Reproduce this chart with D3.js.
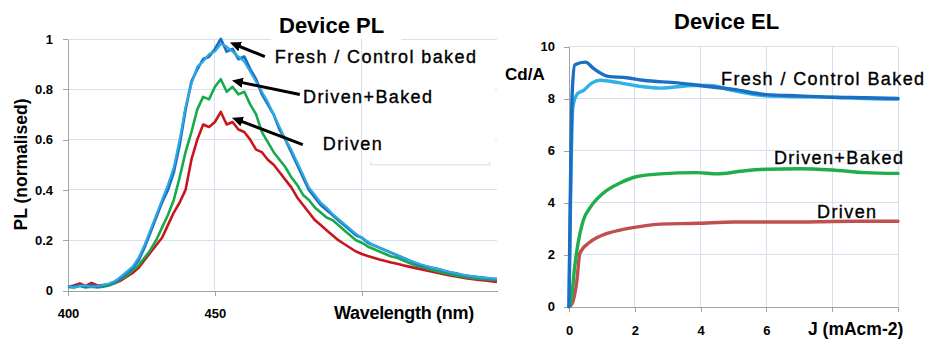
<!DOCTYPE html>
<html><head><meta charset="utf-8">
<script src="https://cdn.jsdelivr.net/npm/d3@7"></script>
<style>html,body{margin:0;padding:0;background:#fff;} svg{display:block;}</style>
</head><body><svg id="c" width="928" height="342"></svg>
<script>
// ---------- Device PL data ----------
const wavelengths=[400,402,404,406,408,410,412,414,416,418,420,422,424,426,428,430,432,434,436,438,440,442,444,446,448,450,452,454,456,458,460,462,464,466,468,470,472,474,476,478,480,482,484,486,488,490,492,494,496,498,500,502,504,506,508,510,512,514,516,518,520,522,524,526,528,530,532,534,536,538,540,542,544,546];
const plFresh=[.015,.015,.02,.015,.02,.015,.02,.025,.035,.05,.07,.09,.12,.17,.23,.29,.35,.40,.47,.58,.72,.83,.88,.92,.93,.96,1.0,.95,.96,.92,.93,.88,.84,.78,.74,.70,.64,.60,.55,.50,.45,.40,.37,.34,.32,.30,.28,.26,.24,.22,.21,.19,.18,.17,.16,.15,.14,.13,.12,.11,.10,.095,.09,.085,.078,.072,.068,.062,.058,.055,.052,.05,.047,.045];
const plControl=[.018,.012,.018,.02,.015,.018,.022,.028,.038,.055,.075,.095,.13,.18,.24,.30,.36,.42,.49,.60,.73,.82,.89,.91,.94,.95,.98,.97,.95,.93,.91,.87,.83,.79,.75,.70,.65,.60,.56,.51,.46,.41,.38,.35,.33,.305,.285,.265,.245,.225,.21,.195,.18,.17,.16,.15,.14,.13,.12,.112,.104,.097,.09,.085,.079,.073,.068,.063,.059,.056,.053,.05,.048,.046];
const plDrivenBaked=[.015,.012,.018,.012,.015,.012,.015,.02,.03,.045,.06,.08,.10,.13,.16,.20,.25,.30,.36,.45,.55,.63,.72,.77,.76,.81,.84,.79,.81,.78,.79,.74,.70,.63,.59,.55,.52,.49,.45,.42,.38,.36,.33,.31,.29,.28,.26,.24,.22,.20,.19,.175,.165,.155,.145,.135,.13,.12,.11,.10,.095,.088,.082,.076,.07,.065,.06,.056,.052,.049,.047,.045,.043,.041];
const plDriven=[.015,.02,.028,.018,.03,.02,.022,.024,.03,.04,.055,.07,.09,.12,.15,.18,.21,.26,.31,.35,.40,.52,.60,.66,.65,.67,.71,.66,.67,.64,.63,.60,.56,.55,.52,.50,.47,.44,.41,.37,.34,.31,.28,.26,.24,.22,.20,.185,.17,.155,.145,.137,.13,.123,.117,.111,.106,.1,.095,.09,.085,.08,.075,.07,.065,.06,.056,.052,.048,.045,.042,.04,.037,.034];
const plXTicks=[400,450,500];
const plXTickLabels=["400","450",""];
const plYTicks=[0,0.2,0.4,0.6,0.8,1];
const plYTickLabels=["0","0.2","0.4","0.6","0.8","1"];
const plNoteText=["Fresh / Control baked","Driven+Baked","Driven"];
const plNoteHead=[[455.1,0.986],[455.8,0.835],[455.8,0.687]];
const plNoteTail=[[467,0.93],[478.9,0.779],[479.9,0.58]];
const plNoteAt=[[470.4,0.906],[480,0.747],[486.7,0.56]];

// ---------- Device EL data ----------
const elFreshJ=[0,0.1,0.18,0.5,0.75,1.2,1.75,2.25,3.3,4.3,5,6,7,8,9,10];
const elFresh=[0,8.3,9.3,9.4,9.15,8.85,8.8,8.7,8.6,8.45,8.35,8.15,8.1,8.05,8.03,8.0];
const elControlJ=[0,0.12,0.27,0.43,0.7,0.95,1.55,2.25,2.8,3.8,4.3,5,6,7,8,9,10];
const elControl=[0,7.7,8.2,8.3,8.6,8.7,8.6,8.45,8.4,8.5,8.5,8.3,8.1,8.07,8.05,8.0,7.98];
const elDrivenBakedJ=[0,0.06,0.18,0.27,0.43,0.64,1.03,1.55,2.07,2.77,3.9,4.5,5.2,6,7,8,9,10];
const elDrivenBaked=[0,0.2,1.6,2.4,3.3,3.8,4.35,4.75,5.0,5.1,5.15,5.1,5.2,5.28,5.3,5.25,5.15,5.12];
const elDrivenJ=[0,0.09,0.24,0.33,0.64,1.03,1.55,2.07,2.77,3.9,5,6,7,8,9,10];
const elDriven=[0,0.1,1.0,2.05,2.48,2.75,2.94,3.06,3.17,3.2,3.25,3.25,3.25,3.27,3.28,3.28];
const elXTicks=[0,2,4,6,8,10];
const elXTickLabels=["0","2","4","6","",""];
const elYTicks=[0,2,4,6,8,10];
const elYTickLabels=["0","2","4","6","8","10"];
const elNoteText=["Fresh / Control Baked","Driven+Baked","Driven"];
const elNoteAt=[[4.62,8.52],[6.23,5.48],[7.54,3.40]];

// ---------- drawing ----------
const FONT="'Liberation Sans', Arial, sans-serif";
const GRID="#d5e1ee", AXIS="#a3a3a3";
const svg=d3.select("#c");
const gGridH=svg.append("g"), gAxes=svg.append("g"), gBg=svg.append("g"),
      gGridV=svg.append("g"), gLines=svg.append("g"), gText=svg.append("g");

function styleAxis(g){
  g.selectAll(".domain").attr("stroke",AXIS).attr("shape-rendering","crispEdges");
  g.selectAll(".tick line").attr("stroke",AXIS).attr("shape-rendering","crispEdges");
  g.selectAll(".tick text").attr("font-family",FONT).attr("font-weight","bold")
    .attr("font-size",13).attr("fill","#000");
}
function bgBehind(node,padL,padR,padT,padB){
  const b=node.getBBox();
  gBg.append("rect").attr("x",b.x-padL).attr("y",b.y-padT)
    .attr("width",b.width+padL+padR).attr("height",b.height+padT+padB).attr("fill","#fff");
  return b;
}

// PL scales
const xPL=d3.scaleLinear().domain([400,546]).range([68,497]);
const yPL=d3.scaleLinear().domain([0,1]).range([290.5,39]);

gGridH.selectAll(".plh").data(plYTicks.filter(d=>d>0)).join("line")
  .attr("x1",xPL.range()[0]).attr("x2",xPL.range()[1])
  .attr("y1",d=>yPL(d)).attr("y2",d=>yPL(d))
  .attr("stroke",GRID).attr("shape-rendering","crispEdges");
gGridV.selectAll(".plv").data(plXTicks.filter(d=>d>400)).join("line")
  .attr("x1",d=>xPL(d)).attr("x2",d=>xPL(d))
  .attr("y1",yPL(0)).attr("y2",yPL(1))
  .attr("stroke",GRID).attr("shape-rendering","crispEdges");

gAxes.append("g").attr("transform",`translate(${xPL.range()[0]},0)`)
  .call(d3.axisLeft(yPL).tickValues(plYTicks).tickFormat((d,i)=>plYTickLabels[i])
    .tickSize(5).tickSizeOuter(0).tickPadding(10)).call(styleAxis);
gAxes.append("g").attr("transform",`translate(0,${yPL(0)})`)
  .call(d3.axisBottom(xPL).tickValues(plXTicks).tickFormat((d,i)=>plXTickLabels[i])
    .tickSize(5).tickSizeOuter(0).tickPadding(13)).call(styleAxis);

const plLine=d3.line().x((d,i)=>xPL(wavelengths[i])).y(d=>yPL(d));
const plSeries=[[plDriven,"#c8161d",2.6],[plDrivenBaked,"#17aa4a",2.6],[plFresh,"#1f6fc1",2.8],[plControl,"#2eaae2",2.2]];
gLines.selectAll(".pl").data(plSeries).join("path")
  .attr("d",d=>plLine(d[0])).attr("fill","none").attr("stroke",d=>d[1])
  .attr("stroke-width",d=>d[2]).attr("stroke-linejoin","round");

// PL titles
const tPL=gText.append("text").attr("x",279).attr("y",33).attr("font-family",FONT)
  .attr("font-weight","bold").attr("font-size",22).text("Device PL");
bgBehind(tPL.node(),8,17,4,2);
const xtPL=gText.append("text").attr("x",334).attr("y",319).attr("font-family",FONT)
  .attr("font-weight","bold").attr("font-size",18).attr("letter-spacing",-0.3).text("Wavelength (nm)");
bgBehind(xtPL.node(),6,6,0,0);
gText.append("text").attr("transform","translate(27,164.5) rotate(-90)")
  .attr("text-anchor","middle").attr("font-family",FONT).attr("font-weight","bold")
  .attr("font-size",17.5).text("PL (normalised)");

// PL notes + arrows
const defs=svg.append("defs");
defs.append("marker").attr("id","ah").attr("markerUnits","userSpaceOnUse")
  .attr("markerWidth",12).attr("markerHeight",10).attr("refX",3).attr("refY",5)
  .attr("orient","auto").append("path").attr("d","M0,0 L11,5 L0,10 z").attr("fill","#000");
const noteNodes=[];
plNoteText.forEach((t,i)=>{
  const n=gText.append("text").attr("x",xPL(plNoteAt[i][0])).attr("y",yPL(plNoteAt[i][1]))
    .attr("font-family",FONT).attr("font-size",18).attr("letter-spacing",1.4)
    .attr("fill","#000").attr("stroke","#000").attr("stroke-width",0.35).text(t);
  noteNodes.push(n.node());
  const x1=xPL(plNoteTail[i][0]), y1=yPL(plNoteTail[i][1]);
  const x2=xPL(plNoteHead[i][0]), y2=yPL(plNoteHead[i][1]);
  const L=Math.hypot(x2-x1,y2-y1), s=(L-8)/L;
  gText.append("line").attr("x1",x1).attr("y1",y1)
    .attr("x2",x1+(x2-x1)*s).attr("y2",y1+(y2-y1)*s)
    .attr("stroke","#000").attr("stroke-width",3).attr("marker-end","url(#ah)");
});
// white label box hiding horizontal grid lines, with faint frame edge
{
  const bs=noteNodes.map(n=>n.getBBox());
  const x0=d3.min(bs,b=>b.x)-6, y0=d3.min(bs,b=>b.y)-2;
  const x1=xPL.range()[1]-2, y1=yPL(0.5);
  gBg.append("rect").attr("x",x0).attr("y",y0).attr("width",x1-x0).attr("height",y1-y0).attr("fill","#fff");
  gBg.append("path").attr("d",`M${xPL(503)},${y1-3}V${y1}H${xPL(543.5)}V${y1-3}`)
    .attr("fill","none").attr("stroke","#d8dde3").attr("stroke-width",1.2);
}

// EL scales
const xEL=d3.scaleLinear().domain([0,10]).range([569,898]);
const yEL=d3.scaleLinear().domain([0,10]).range([306.5,46.5]);
gGridH.selectAll(".elh").data(elYTicks.filter(d=>d>0)).join("line")
  .attr("x1",xEL.range()[0]).attr("x2",xEL.range()[1])
  .attr("y1",d=>yEL(d)).attr("y2",d=>yEL(d))
  .attr("stroke",GRID).attr("shape-rendering","crispEdges");
gGridH.selectAll(".elv").data(elXTicks.filter(d=>d>0)).join("line")
  .attr("x1",d=>xEL(d)).attr("x2",d=>xEL(d))
  .attr("y1",yEL(0)).attr("y2",yEL(10))
  .attr("stroke",GRID).attr("shape-rendering","crispEdges");
gAxes.append("g").attr("transform",`translate(${xEL.range()[0]},0)`)
  .call(d3.axisLeft(yEL).tickValues(elYTicks).tickFormat((d,i)=>elYTickLabels[i])
    .tickSize(5).tickSizeOuter(0).tickPadding(9)).call(styleAxis);
gAxes.append("g").attr("transform",`translate(0,${yEL(0)})`)
  .call(d3.axisBottom(xEL).tickValues(elXTicks).tickFormat((d,i)=>elXTickLabels[i])
    .tickSize(5).tickSizeOuter(0).tickPadding(14)).call(styleAxis);

const elSeries=[[elDrivenJ,elDriven,"#c0504d"],[elDrivenBakedJ,elDrivenBaked,"#1fae4b"],
  [elControlJ,elControl,"#2fb0e6"],[elFreshJ,elFresh,"#1b6ec2"]];
const elLine=(xs,ys)=>d3.line().curve(d3.curveMonotoneX).x((d,i)=>xEL(xs[i])).y(d=>yEL(d))(ys);
gLines.selectAll(".el").data(elSeries).join("path")
  .attr("d",d=>elLine(d[0],d[1])).attr("fill","none").attr("stroke",d=>d[2])
  .attr("stroke-width",3.4).attr("stroke-linejoin","round").attr("stroke-linecap","round");

const tEL=gText.append("text").attr("x",674).attr("y",29).attr("font-family",FONT)
  .attr("font-weight","bold").attr("font-size",22).text("Device EL");
bgBehind(tEL.node(),4,4,2,2);
const xtEL=gText.append("text").attr("x",808).attr("y",335).attr("font-family",FONT)
  .attr("font-weight","bold").attr("font-size",17.5).text("J (mAcm-2)");
bgBehind(xtEL.node(),4,4,0,0);
gText.append("text").attr("x",505).attr("y",80).attr("font-family",FONT)
  .attr("font-weight","bold").attr("font-size",17).text("Cd/A");
elNoteText.forEach((t,i)=>{
  gText.append("text").attr("x",xEL(elNoteAt[i][0])).attr("y",yEL(elNoteAt[i][1]))
    .attr("font-family",FONT).attr("font-size",18).attr("letter-spacing",1.4)
    .attr("fill","#000").attr("stroke","#000").attr("stroke-width",0.35).text(t);
});
</script></body></html>
